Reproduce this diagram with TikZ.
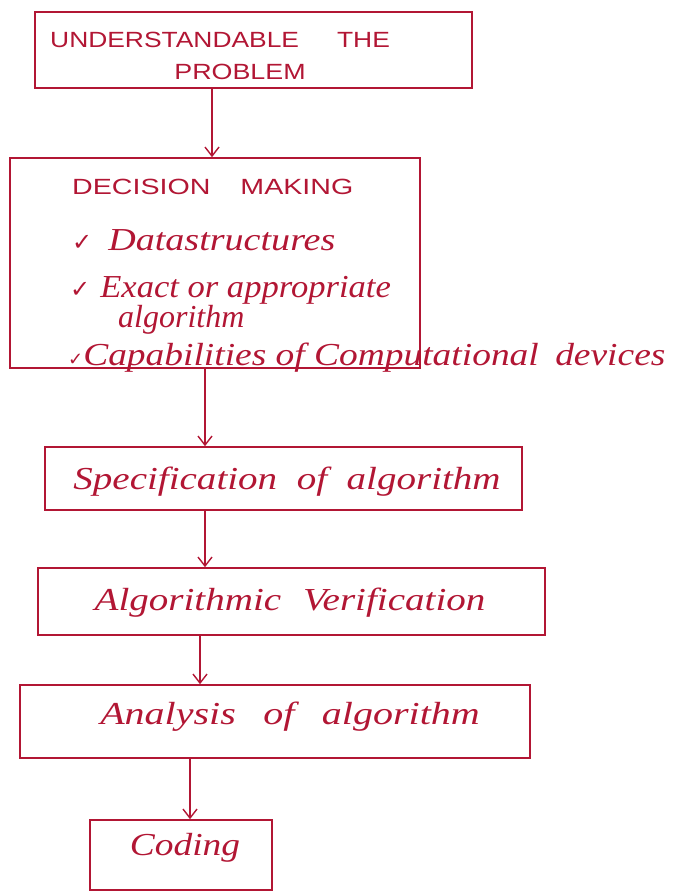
\documentclass[tikz,border=0pt]{standalone}
\usepackage{fontspec}
\setmainfont{Liberation Serif}
\newfontfamily\capsfont{Liberation Sans}
\newfontfamily\symfont{DejaVu Sans}
\usetikzlibrary{arrows.meta}
\definecolor{ink}{RGB}{178,22,52}
\newcommand{\hs}[2]{\scalebox{#1}[1]{#2}}
\newcommand{\chk}[1]{{\symfont\fontsize{#1}{#1}\selectfont ✓}}
\tikzset{
  box/.style={draw=ink, line width=1.6pt, rectangle, inner sep=0pt},
  capstxt/.style={text=ink, font=\capsfont\fontsize{22}{24}\selectfont, inner sep=0pt},
  handtxt/.style={text=ink, font=\itshape\fontsize{32}{34}\selectfont, inner sep=0pt},
  arr/.style={draw=ink, line width=1.4pt, -{Straight Barb[length=9pt,width=14pt,line width=1.4pt]}},
}
\begin{document}
\begin{tikzpicture}[x=1pt,y=-1pt]
\useasboundingbox[fill=white] (0,0) rectangle (677,893);
% boxes
\node[box, minimum width=437pt, minimum height=76pt] (b1) at (253.5,50) {};
\node[box, minimum width=410pt, minimum height=210pt] (b2) at (215,263) {};
\node[box, minimum width=477pt, minimum height=63pt] (b3) at (283.5,478.5) {};
\node[box, minimum width=507pt, minimum height=67pt] (b4) at (291.5,601.5) {};
\node[box, minimum width=510pt, minimum height=73pt] (b5) at (275,721.5) {};
\node[box, minimum width=182pt, minimum height=70pt] (b6) at (181,855) {};
% texts
\node[capstxt, anchor=west] (t1a) at (50,40) {\hs{1.2}{UNDERSTANDABLE}\hspace{38pt}\hs{1.2}{THE}};
\node[capstxt] (t1b) at (240,72) {\hs{1.22}{PROBLEM}};
\node[capstxt, anchor=west] (t2a) at (72,187) {\hs{1.3}{DECISION}\hspace{30pt}\hs{1.3}{MAKING}};
\node[handtxt, anchor=west] (t2b) at (72,240) {\chk{24}\hspace{16pt}\hs{1.19}{Datastructures}};
\node[handtxt, anchor=west] (t2c) at (70,290) {\chk{24}\hspace{10pt}\hs{1.08}{Exact or appropriate}};
\node[handtxt, anchor=west] (t2d) at (118,320) {algorithm};
\node[handtxt, anchor=west] (t2e) at (68,358) {\chk{18}\hs{1.17}{Capabilities of Computational\hspace{14pt}devices}};
\node[handtxt] (t3) at (287,482) {\hs{1.22}{Specification\hspace{16pt}of\hspace{16pt}algorithm}};
\node[handtxt] (t4) at (290,603) {\hs{1.22}{Algorithmic\hspace{18pt}Verification}};
\node[handtxt] (t5) at (290,717) {\hs{1.25}{Analysis\hspace{22pt}of\hspace{22pt}algorithm}};
\node[handtxt] (t6) at (185,848) {\hs{1.17}{Coding}};
% arrow anchor columns
\coordinate (c1) at (212,0);
\coordinate (c2) at (205,0);
\coordinate (c3) at (205,0);
\coordinate (c4) at (200,0);
\coordinate (c5) at (190,0);
\draw[arr] (b1.south -| c1) -- (b2.north -| c1);
\draw[arr] (b2.south -| c2) -- (b3.north -| c2);
\draw[arr] (b3.south -| c3) -- (b4.north -| c3);
\draw[arr] (b4.south -| c4) -- (b5.north -| c4);
\draw[arr] (b5.south -| c5) -- (b6.north -| c5);
\end{tikzpicture}
\end{document}
